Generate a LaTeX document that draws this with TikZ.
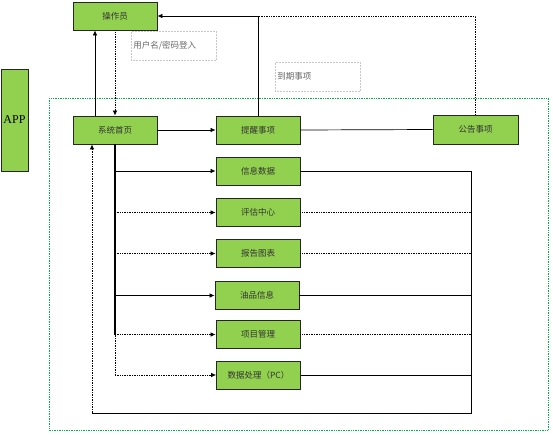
\documentclass[tikz,border=0pt]{standalone}
\usepackage{fontspec}
\setmainfont{Liberation Serif}
\newfontfamily\cjk{Noto Sans CJK SC}
\usetikzlibrary{arrows.meta}
\definecolor{boxgreen}{HTML}{92D050}
\definecolor{framegreen}{HTML}{00B050}
\tikzset{
  box/.style={draw=black!85, fill=boxgreen, line width=0.8pt, minimum width=84pt, minimum height=28pt, inner sep=0pt, font=\cjk\fontsize{8.5}{10}\selectfont, text=black!80},
  lbl/.style={draw=black!22, densely dotted, line width=0.5pt, minimum width=85pt, minimum height=29pt, inner sep=2pt, anchor=north west, font=\cjk\fontsize{8.5}{10}\selectfont, text=black!60, text width=81pt, align=left},
  arr/.style={-{Latex[length=5pt,width=4.5pt]}},
  conn/.style={line width=0.7pt},
}
\begin{document}
\begin{tikzpicture}[x=1pt,y=-1pt]
\useasboundingbox (0,0) rectangle (553,434);
% container
\draw[framegreen, densely dotted, line width=0.7pt] (49,98) rectangle (548,430);
% nodes
\node[box] (op) at (115,16) {操作员};
\node[box, minimum width=27pt, minimum height=102pt, font=\fontsize{12}{14}\selectfont, text=black] (app) at (14.5,120) {APP};
\node[box] (home) at (115,130) {系统首页};
\node[box] (remind) at (258,130) {提醒事项};
\node[box, minimum width=85pt, minimum height=29pt] (notice) at (475.5,129.5) {公告事项};
\node[box] (info) at (258,171) {信息数据};
\node[box] (eval) at (258,212.5) {评估中心};
\node[box] (report) at (258,253.5) {报告图表};
\node[box] (oil) at (257,295.5) {油品信息};
\node[box] (proj) at (258,334.5) {项目管理};
\node[box] (data) at (258.5,375) {数据处理（PC）};
% labels
\node[lbl] (l1) at (131,31) {用户名/密码登入};
\node[lbl] (l2) at (275,62) {到期事项};
% top connectors
\draw[conn, arr] ([xshift=-20pt]home.north) -- ([xshift=-20pt]op.south);
\draw[conn, densely dotted, arr] (op.south) -- (home.north);
\draw[conn, densely dotted] (notice.north) |- (remind.north |- op.east);
\draw[conn, arr] (remind.north) |- (op.east);
\draw[conn, arr] (home.east) -- (remind.west);
\draw[conn] (remind.east) -- (notice.west);
% trunk
\draw[line width=1.3pt] (home.south) -- (home.south |- proj.west);
\draw[conn, densely dotted] (home.south |- proj.west) -- (home.south |- data.west);
\draw[conn, arr] (home.south |- info.west) -- (info.west);
\draw[conn, densely dotted, arr] (home.south |- eval.west) -- (eval.west);
\draw[conn, densely dotted, arr] (home.south |- report.west) -- (report.west);
\draw[conn, arr] (home.south |- oil.west) -- (oil.west);
\draw[conn, densely dotted, arr] (home.south |- proj.west) -- (proj.west);
\draw[conn, densely dotted, arr] (home.south |- data.west) -- (data.west);
% return path
\coordinate (rb) at (471,413);
\coordinate (lb) at (92,413);
\draw[conn] (info.east) -| (rb) -- (lb);
\draw[conn, densely dotted] (eval.east) -- (eval.east -| rb);
\draw[conn, densely dotted] (report.east) -- (report.east -| rb);
\draw[conn] (oil.east) -- (oil.east -| rb);
\draw[conn, densely dotted] (proj.east) -- (proj.east -| rb);
\draw[conn] (data.east) -- (data.east -| rb);
\draw[conn, densely dotted, arr] (lb) -- ([xshift=-23pt]home.south);
\end{tikzpicture}
\end{document}
